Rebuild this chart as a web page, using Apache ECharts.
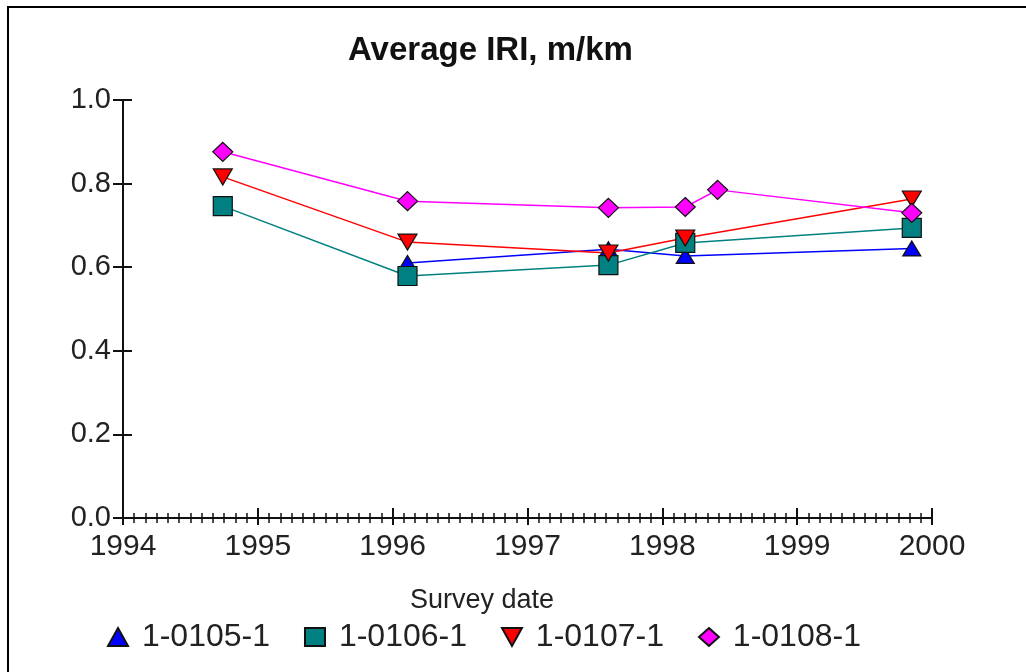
<!DOCTYPE html>
<html>
<head>
<meta charset="utf-8">
<script src="https://cdn.jsdelivr.net/npm/echarts@6/dist/echarts.min.js"></script>
<style>
html, body { margin: 0; padding: 0; background: #fff; }
#wrap { position: relative; width: 1026px; height: 672px; }
#chart { width: 1026px; height: 672px; }
#frame {
  position: absolute; left: 7px; top: 6px; right: 0; bottom: 0;
  border-top: 2px solid #000; border-left: 2px solid #000;
  pointer-events: none;
}
</style>
</head>
<body>
<div id="wrap">
  <div id="chart"></div>
  <div id="frame"></div>
</div>
<script>
// survey dates (decimal years) and IRI per section, null = not surveyed
var surveyDates = [1994.74, 1996.11, 1997.6, 1998.17, 1998.41, 1999.85]
var iri0105 = [null, 0.61, 0.643, 0.627, null, 0.645]
var iri0106 = [0.746, 0.579, 0.605, 0.658, null, 0.694]
var iri0107 = [0.816, 0.66, 0.634, 0.67, null, 0.763]
var iri0108 = [0.876, 0.758, 0.742, 0.744, 0.785, 0.73]
var sectionNames = ['1-0105-1', '1-0106-1', '1-0107-1', '1-0108-1']
var xMin = 1994
var xMax = 2000
var yMin = 0
var yMax = 1

var FONT = 'Liberation Sans, Arial, sans-serif'
var downTri = 'path://M0,0 L10,0 L5,9 Z'

function pairs (vals) {
  var out = []
  for (var i = 0; i < surveyDates.length; i++) {
    if (vals[i] !== null) out.push([surveyDates[i], vals[i]])
  }
  return out
}

function makeSeries (name, vals, color, symbol, size) {
  return {
    name: name,
    type: 'line',
    data: pairs(vals),
    symbol: symbol,
    symbolSize: size,
    showAllSymbol: true,
    lineStyle: { color: color, width: 1.5 },
    itemStyle: { color: color, borderColor: '#111', borderWidth: 1.2 },
    emphasis: { disabled: true },
    z: 3
  }
}

var xBase = {
  type: 'value',
  min: xMin,
  max: xMax,
  interval: 1,
  splitLine: { show: false },
  minorSplitLine: { show: false }
}
var yBase = {
  type: 'value',
  min: yMin,
  max: yMax,
  interval: 0.2,
  splitLine: { show: false }
}

var option = {
  animation: false,
  backgroundColor: '#fff',
  title: [
    {
      text: 'Average IRI, m/km',
      left: 343,
      top: 29,
      textStyle: { fontFamily: FONT, fontSize: 33, fontWeight: 'bold', color: '#111' }
    },
    {
      text: 'Survey date',
      left: 405,
      top: 582,
      textStyle: { fontFamily: FONT, fontSize: 27, fontWeight: 'normal', color: '#222' }
    }
  ],
  grid: { left: 123, right: 94, top: 100, bottom: 154, containLabel: false },
  legend: {
    left: 102,
    top: 616,
    itemGap: 34,
    itemWidth: 20,
    itemHeight: 18,
    formatter: function (n) { return ' ' + n },
    textStyle: { fontFamily: FONT, fontSize: 32, color: '#222' },
    data: [
      { name: sectionNames[0], icon: 'triangle' },
      { name: sectionNames[1], icon: 'rect' },
      { name: sectionNames[2], icon: downTri },
      { name: sectionNames[3], icon: 'diamond' }
    ]
  },
  xAxis: [
    Object.assign({}, xBase, {
      position: 'bottom',
      axisLine: { onZero: false, lineStyle: { color: '#111', width: 2 } },
      axisTick: { length: 7, lineStyle: { color: '#111', width: 2 } },
      minorTick: { show: true, splitNumber: 12, length: 5, lineStyle: { color: '#111', width: 1.5 } },
      axisLabel: {
        margin: 14,
        fontFamily: FONT, fontSize: 30, color: '#222',
        formatter: function (v) { return String(v) }
      }
    }),
    Object.assign({}, xBase, {
      position: 'bottom',
      axisLine: { show: false, onZero: false },
      axisTick: { inside: true, length: 10, lineStyle: { color: '#111', width: 2 } },
      minorTick: { show: true, splitNumber: 12, length: 5, lineStyle: { color: '#111', width: 1.5 } },
      axisLabel: { show: false }
    })
  ],
  yAxis: [
    Object.assign({}, yBase, {
      position: 'left',
      axisLine: { onZero: false, lineStyle: { color: '#111', width: 2 } },
      axisTick: { length: 10, lineStyle: { color: '#111', width: 2 } },
      axisLabel: {
        margin: 12,
        fontFamily: FONT, fontSize: 29, color: '#222',
        formatter: function (v) { return v.toFixed(1) }
      }
    }),
    Object.assign({}, yBase, {
      position: 'left',
      axisLine: { show: false, onZero: false },
      axisTick: { inside: true, length: 9, lineStyle: { color: '#111', width: 2 } },
      axisLabel: { show: false }
    })
  ],
  series: [
    makeSeries(sectionNames[0], iri0105, '#0000ff', 'triangle', [18, 15]),
    makeSeries(sectionNames[1], iri0106, '#008080', 'rect', 19),
    makeSeries(sectionNames[2], iri0107, '#ff0000', downTri, [19, 16]),
    makeSeries(sectionNames[3], iri0108, '#ff00ff', 'diamond', [20, 19])
  ]
}

var chart = echarts.init(document.getElementById('chart'), null, { renderer: 'canvas' })
chart.setOption(option)
</script>
</body>
</html>
